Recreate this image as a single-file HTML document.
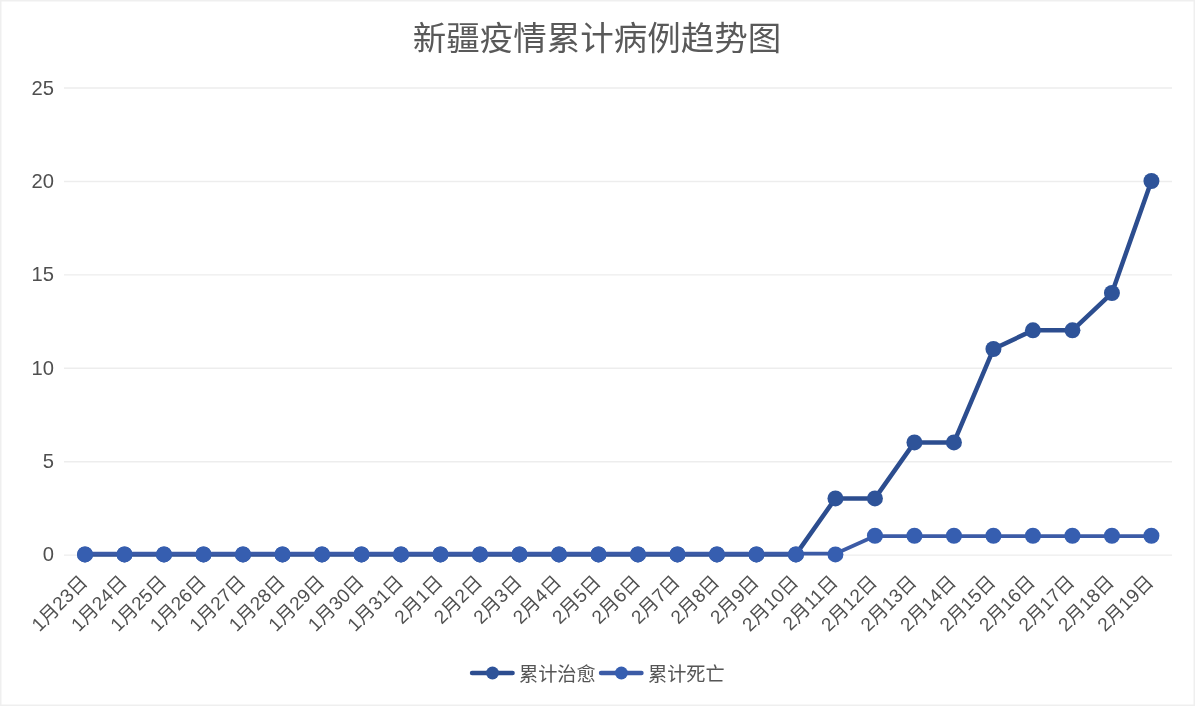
<!DOCTYPE html>
<html lang="zh-CN"><head><meta charset="utf-8"><title>新疆疫情累计病例趋势图</title>
<style>html,body{margin:0;padding:0;background:#fff;}body{width:1195px;height:706px;overflow:hidden;}svg{display:block;}.t{font-family:"Liberation Sans","Noto Sans CJK SC",sans-serif;}</style></head><body>
<svg width="1195" height="706" viewBox="0 0 1195 706">
<rect x="0" y="0" width="1195" height="706" fill="#fff"/>
<rect x="0.75" y="0.75" width="1193.5" height="704.5" fill="none" stroke="#efefef" stroke-width="1.5"/>
<text class="t" x="597" y="50" text-anchor="middle" font-size="33.5" fill="#595959">新疆疫情累计病例趋势图</text>
<line x1="64" y1="555.15" x2="1172" y2="555.15" stroke="#ededed" stroke-width="1.4"/>
<text class="t" x="54" y="560.95" text-anchor="end" font-size="20.2" fill="#4f4f4f">0</text>
<line x1="64" y1="461.73" x2="1172" y2="461.73" stroke="#ededed" stroke-width="1.4"/>
<text class="t" x="54" y="467.76" text-anchor="end" font-size="20.2" fill="#4f4f4f">5</text>
<line x1="64" y1="368.31" x2="1172" y2="368.31" stroke="#ededed" stroke-width="1.4"/>
<text class="t" x="54" y="374.57" text-anchor="end" font-size="20.2" fill="#4f4f4f">10</text>
<line x1="64" y1="274.89" x2="1172" y2="274.89" stroke="#ededed" stroke-width="1.4"/>
<text class="t" x="54" y="281.38" text-anchor="end" font-size="20.2" fill="#4f4f4f">15</text>
<line x1="64" y1="181.47" x2="1172" y2="181.47" stroke="#ededed" stroke-width="1.4"/>
<text class="t" x="54" y="188.19" text-anchor="end" font-size="20.2" fill="#4f4f4f">20</text>
<line x1="64" y1="88.05" x2="1172" y2="88.05" stroke="#ededed" stroke-width="1.4"/>
<text class="t" x="54" y="95.00" text-anchor="end" font-size="20.2" fill="#4f4f4f">25</text>
<text class="t" transform="translate(88.70,583.20) rotate(-45)" text-anchor="end" font-size="19" fill="#505050">1月23日</text>
<text class="t" transform="translate(128.18,583.20) rotate(-45)" text-anchor="end" font-size="19" fill="#505050">1月24日</text>
<text class="t" transform="translate(167.66,583.20) rotate(-45)" text-anchor="end" font-size="19" fill="#505050">1月25日</text>
<text class="t" transform="translate(207.14,583.20) rotate(-45)" text-anchor="end" font-size="19" fill="#505050">1月26日</text>
<text class="t" transform="translate(246.62,583.20) rotate(-45)" text-anchor="end" font-size="19" fill="#505050">1月27日</text>
<text class="t" transform="translate(286.10,583.20) rotate(-45)" text-anchor="end" font-size="19" fill="#505050">1月28日</text>
<text class="t" transform="translate(325.58,583.20) rotate(-45)" text-anchor="end" font-size="19" fill="#505050">1月29日</text>
<text class="t" transform="translate(365.06,583.20) rotate(-45)" text-anchor="end" font-size="19" fill="#505050">1月30日</text>
<text class="t" transform="translate(404.54,583.20) rotate(-45)" text-anchor="end" font-size="19" fill="#505050">1月31日</text>
<text class="t" transform="translate(444.02,583.20) rotate(-45)" text-anchor="end" font-size="19" fill="#505050">2月1日</text>
<text class="t" transform="translate(483.50,583.20) rotate(-45)" text-anchor="end" font-size="19" fill="#505050">2月2日</text>
<text class="t" transform="translate(522.98,583.20) rotate(-45)" text-anchor="end" font-size="19" fill="#505050">2月3日</text>
<text class="t" transform="translate(562.46,583.20) rotate(-45)" text-anchor="end" font-size="19" fill="#505050">2月4日</text>
<text class="t" transform="translate(601.94,583.20) rotate(-45)" text-anchor="end" font-size="19" fill="#505050">2月5日</text>
<text class="t" transform="translate(641.42,583.20) rotate(-45)" text-anchor="end" font-size="19" fill="#505050">2月6日</text>
<text class="t" transform="translate(680.90,583.20) rotate(-45)" text-anchor="end" font-size="19" fill="#505050">2月7日</text>
<text class="t" transform="translate(720.38,583.20) rotate(-45)" text-anchor="end" font-size="19" fill="#505050">2月8日</text>
<text class="t" transform="translate(759.86,583.20) rotate(-45)" text-anchor="end" font-size="19" fill="#505050">2月9日</text>
<text class="t" transform="translate(799.34,583.20) rotate(-45)" text-anchor="end" font-size="19" fill="#505050">2月10日</text>
<text class="t" transform="translate(838.82,583.20) rotate(-45)" text-anchor="end" font-size="19" fill="#505050">2月11日</text>
<text class="t" transform="translate(878.30,583.20) rotate(-45)" text-anchor="end" font-size="19" fill="#505050">2月12日</text>
<text class="t" transform="translate(917.78,583.20) rotate(-45)" text-anchor="end" font-size="19" fill="#505050">2月13日</text>
<text class="t" transform="translate(957.26,583.20) rotate(-45)" text-anchor="end" font-size="19" fill="#505050">2月14日</text>
<text class="t" transform="translate(996.74,583.20) rotate(-45)" text-anchor="end" font-size="19" fill="#505050">2月15日</text>
<text class="t" transform="translate(1036.22,583.20) rotate(-45)" text-anchor="end" font-size="19" fill="#505050">2月16日</text>
<text class="t" transform="translate(1075.70,583.20) rotate(-45)" text-anchor="end" font-size="19" fill="#505050">2月17日</text>
<text class="t" transform="translate(1115.18,583.20) rotate(-45)" text-anchor="end" font-size="19" fill="#505050">2月18日</text>
<text class="t" transform="translate(1154.66,583.20) rotate(-45)" text-anchor="end" font-size="19" fill="#505050">2月19日</text>
<polyline points="85.00,554.40 124.50,554.40 163.99,554.40 203.49,554.40 242.99,554.40 282.49,554.40 321.98,554.40 361.48,554.40 400.98,554.40 440.47,554.40 479.97,554.40 519.47,554.40 558.96,554.40 598.46,554.40 637.96,554.40 677.46,554.40 716.95,554.40 756.45,554.40 795.95,554.40 835.44,498.39 874.94,498.39 914.44,442.38 953.93,442.38 993.43,349.03 1032.93,330.36 1072.42,330.36 1111.92,293.02 1151.42,181.00" fill="none" stroke="#2C4D8F" stroke-width="4.5" stroke-linejoin="round" stroke-linecap="round"/>
<circle cx="85.00" cy="554.40" r="8.0" fill="#2E5399"/>
<circle cx="124.50" cy="554.40" r="8.0" fill="#2E5399"/>
<circle cx="163.99" cy="554.40" r="8.0" fill="#2E5399"/>
<circle cx="203.49" cy="554.40" r="8.0" fill="#2E5399"/>
<circle cx="242.99" cy="554.40" r="8.0" fill="#2E5399"/>
<circle cx="282.49" cy="554.40" r="8.0" fill="#2E5399"/>
<circle cx="321.98" cy="554.40" r="8.0" fill="#2E5399"/>
<circle cx="361.48" cy="554.40" r="8.0" fill="#2E5399"/>
<circle cx="400.98" cy="554.40" r="8.0" fill="#2E5399"/>
<circle cx="440.47" cy="554.40" r="8.0" fill="#2E5399"/>
<circle cx="479.97" cy="554.40" r="8.0" fill="#2E5399"/>
<circle cx="519.47" cy="554.40" r="8.0" fill="#2E5399"/>
<circle cx="558.96" cy="554.40" r="8.0" fill="#2E5399"/>
<circle cx="598.46" cy="554.40" r="8.0" fill="#2E5399"/>
<circle cx="637.96" cy="554.40" r="8.0" fill="#2E5399"/>
<circle cx="677.46" cy="554.40" r="8.0" fill="#2E5399"/>
<circle cx="716.95" cy="554.40" r="8.0" fill="#2E5399"/>
<circle cx="756.45" cy="554.40" r="8.0" fill="#2E5399"/>
<circle cx="795.95" cy="554.40" r="8.0" fill="#2E5399"/>
<circle cx="835.44" cy="498.39" r="8.0" fill="#2E5399"/>
<circle cx="874.94" cy="498.39" r="8.0" fill="#2E5399"/>
<circle cx="914.44" cy="442.38" r="8.0" fill="#2E5399"/>
<circle cx="953.93" cy="442.38" r="8.0" fill="#2E5399"/>
<circle cx="993.43" cy="349.03" r="8.0" fill="#2E5399"/>
<circle cx="1032.93" cy="330.36" r="8.0" fill="#2E5399"/>
<circle cx="1072.42" cy="330.36" r="8.0" fill="#2E5399"/>
<circle cx="1111.92" cy="293.02" r="8.0" fill="#2E5399"/>
<circle cx="1151.42" cy="181.00" r="8.0" fill="#2E5399"/>
<polyline points="85.00,553.70 124.50,553.70 163.99,553.70 203.49,553.70 242.99,553.70 282.49,553.70 321.98,553.70 361.48,553.70 400.98,553.70 440.47,553.70 479.97,553.70 519.47,553.70 558.96,553.70 598.46,553.70 637.96,553.70 677.46,553.70 716.95,553.70 756.45,553.70 795.95,553.70 835.44,553.70 874.94,536.03 914.44,536.03 953.93,536.03 993.43,536.03 1032.93,536.03 1072.42,536.03 1111.92,536.03 1151.42,536.03" fill="none" stroke="#3C5BA6" stroke-width="3.7" stroke-linejoin="round" stroke-linecap="round"/>
<circle cx="85.00" cy="554.40" r="8.0" fill="#365EB0"/>
<circle cx="124.50" cy="554.40" r="8.0" fill="#365EB0"/>
<circle cx="163.99" cy="554.40" r="8.0" fill="#365EB0"/>
<circle cx="203.49" cy="554.40" r="8.0" fill="#365EB0"/>
<circle cx="242.99" cy="554.40" r="8.0" fill="#365EB0"/>
<circle cx="282.49" cy="554.40" r="8.0" fill="#365EB0"/>
<circle cx="321.98" cy="554.40" r="8.0" fill="#365EB0"/>
<circle cx="361.48" cy="554.40" r="8.0" fill="#365EB0"/>
<circle cx="400.98" cy="554.40" r="8.0" fill="#365EB0"/>
<circle cx="440.47" cy="554.40" r="8.0" fill="#365EB0"/>
<circle cx="479.97" cy="554.40" r="8.0" fill="#365EB0"/>
<circle cx="519.47" cy="554.40" r="8.0" fill="#365EB0"/>
<circle cx="558.96" cy="554.40" r="8.0" fill="#365EB0"/>
<circle cx="598.46" cy="554.40" r="8.0" fill="#365EB0"/>
<circle cx="637.96" cy="554.40" r="8.0" fill="#365EB0"/>
<circle cx="677.46" cy="554.40" r="8.0" fill="#365EB0"/>
<circle cx="716.95" cy="554.40" r="8.0" fill="#365EB0"/>
<circle cx="756.45" cy="554.40" r="8.0" fill="#365EB0"/>
<circle cx="795.95" cy="554.40" r="8.0" fill="#365EB0"/>
<circle cx="835.44" cy="554.40" r="8.0" fill="#365EB0"/>
<circle cx="874.94" cy="535.73" r="8.0" fill="#365EB0"/>
<circle cx="914.44" cy="535.73" r="8.0" fill="#365EB0"/>
<circle cx="953.93" cy="535.73" r="8.0" fill="#365EB0"/>
<circle cx="993.43" cy="535.73" r="8.0" fill="#365EB0"/>
<circle cx="1032.93" cy="535.73" r="8.0" fill="#365EB0"/>
<circle cx="1072.42" cy="535.73" r="8.0" fill="#365EB0"/>
<circle cx="1111.92" cy="535.73" r="8.0" fill="#365EB0"/>
<circle cx="1151.42" cy="535.73" r="8.0" fill="#365EB0"/>
<line x1="472" y1="673" x2="512.6" y2="673" stroke="#2C4D8F" stroke-width="4.4" stroke-linecap="round"/>
<circle cx="492.5" cy="673" r="6.5" fill="#2E5399"/>
<text class="t" x="519" y="680.5" font-size="19.2" fill="#555555">累计治愈</text>
<line x1="601" y1="673" x2="641.5" y2="673" stroke="#3C5BA6" stroke-width="4.4" stroke-linecap="round"/>
<circle cx="621.4" cy="673" r="6.5" fill="#365EB0"/>
<text class="t" x="648" y="680.5" font-size="19.2" fill="#555555">累计死亡</text>
</svg></body></html>
